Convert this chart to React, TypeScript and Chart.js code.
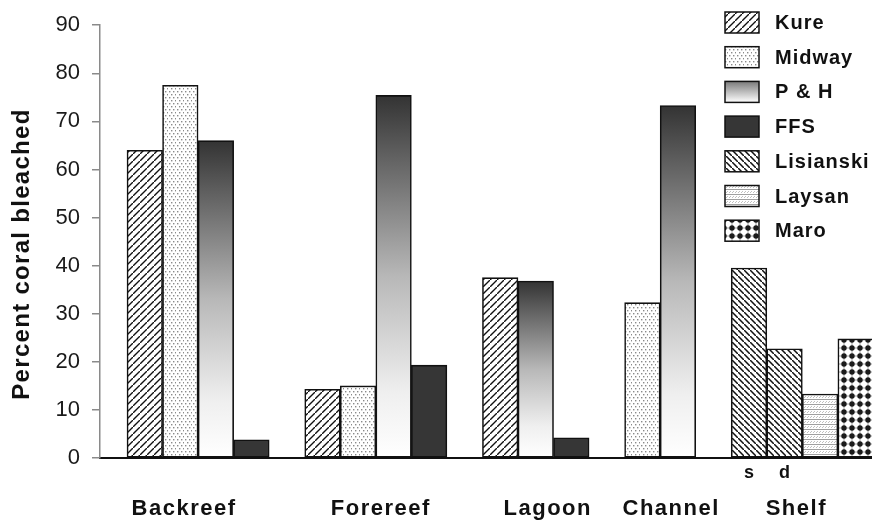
import React, { useEffect, useRef } from "react";
import { Chart, registerables } from "chart.js";

Chart.register(...registerables);

// ---------------- data ----------------
const categories = ["Backreef", "Forereef", "Lagoon", "Channel", "Shelf"];
const siteNames = ["Kure", "Midway", "P & H", "FFS", "Lisianski", "Laysan", "Maro"];

const backreefSites = ["Kure", "Midway", "P & H", "FFS"];
const backreefValues = [64, 77.5, 66, 3.8];
const forereefSites = ["Kure", "Midway", "P & H", "FFS"];
const forereefValues = [14.3, 15, 75.4, 19.3];
const lagoonSites = ["Kure", "P & H", "FFS"];
const lagoonValues = [37.5, 36.8, 4.2];
const channelSites = ["Midway", "P & H"];
const channelValues = [32.3, 73.3];
const shelfSites = ["Lisianski", "Lisianski", "Laysan", "Maro"];
const shelfValues = [39.5, 22.7, 13.3, 24.8];
const shelfSubLabels = ["s", "d", "", ""];

const yTickValues = [0, 10, 20, 30, 40, 50, 60, 70, 80, 90];
const yTitle = "Percent coral bleached";

// ---------------- layout / style constants ----------------
const W = 872;
const H = 523;
const FONT = "'Liberation Sans', Arial, Helvetica, sans-serif";
const groupLabelNudge = [-14, 5, 12, 11, -6];

const groupSites = [backreefSites, forereefSites, lagoonSites, channelSites, shelfSites];
const groupValues = [backreefValues, forereefValues, lagoonValues, channelValues, shelfValues];
const groupSubLabels = [[], [], [], [], shelfSubLabels];

type Bar = { site: string; value: number; slot: number; group: number; sub: string };
const bars: Bar[] = [];
const groupSlots: number[][] = [];
{
  let slot = 0;
  groupSites.forEach((sites, g) => {
    const slots: number[] = [];
    sites.forEach((site, i) => {
      bars.push({ site, value: groupValues[g][i], slot, group: g, sub: (groupSubLabels[g] as string[])[i] || "" });
      slots.push(slot);
      slot++;
    });
    groupSlots.push(slots);
    slot++;
  });
}
const lastSlot = bars[bars.length - 1].slot;

function tile(w: number, h: number, draw: (g: CanvasRenderingContext2D) => void, target: CanvasRenderingContext2D) {
  const c = document.createElement("canvas");
  c.width = w;
  c.height = h;
  const g = c.getContext("2d")!;
  g.fillStyle = "#ffffff";
  g.fillRect(0, 0, w, h);
  draw(g);
  return target.createPattern(c, "repeat")!;
}

function makeFills(ctx: CanvasRenderingContext2D) {
  const kure = tile(7, 7, (g) => {
    g.strokeStyle = "#111";
    g.lineWidth = 1.4;
    g.beginPath();
    g.moveTo(-1, 8); g.lineTo(8, -1);
    g.moveTo(-2, 1); g.lineTo(1, -2);
    g.moveTo(6, 9); g.lineTo(9, 6);
    g.stroke();
  }, ctx);
  const lis = tile(6, 6, (g) => {
    g.strokeStyle = "#111";
    g.lineWidth = 1.5;
    g.beginPath();
    g.moveTo(-1, -1); g.lineTo(7, 7);
    g.moveTo(-2, 5); g.lineTo(1, 8);
    g.moveTo(5, -2); g.lineTo(8, 1);
    g.stroke();
  }, ctx);
  const midway = tile(8, 6, (g) => {
    g.fillStyle = "#8a8a8a";
    g.fillRect(1, 1, 1.4, 1.4);
    g.fillRect(5, 1, 1.4, 1.4);
    g.fillRect(3, 4, 1.4, 1.4);
    g.fillRect(7, 4, 1.4, 1.4);
  }, ctx);
  const laysan = tile(6, 5, (g) => {
    g.strokeStyle = "#a0a0a0";
    g.lineWidth = 1;
    g.beginPath();
    g.moveTo(0, 4.5); g.lineTo(6, 4.5);
    g.stroke();
    g.strokeStyle = "#b0b0b0";
    g.lineWidth = 0.8;
    g.beginPath();
    g.moveTo(0, 3); g.lineTo(2, 1);
    g.moveTo(3, 3); g.lineTo(5, 1);
    g.stroke();
  }, ctx);
  const maro = tile(8, 8, (g) => {
    g.strokeStyle = "#9a9a9a";
    g.lineWidth = 1;
    g.beginPath();
    g.moveTo(0, 4); g.lineTo(8, 4);
    g.moveTo(4, 0); g.lineTo(4, 8);
    g.stroke();
    g.fillStyle = "#1a1a1a";
    g.beginPath();
    g.arc(4, 4, 2.7, 0, Math.PI * 2);
    g.fill();
  }, ctx);
  return { kure, lis, midway, laysan, maro };
}

function barGradient(ctx: CanvasRenderingContext2D, top: number, bottom: number) {
  const g = ctx.createLinearGradient(0, top, 0, bottom);
  g.addColorStop(0, "#333333");
  g.addColorStop(0.15, "#5c5c5c");
  g.addColorStop(0.5, "#b8b8b8");
  g.addColorStop(0.82, "#efefef");
  g.addColorStop(1, "#ffffff");
  return g;
}

export default function App() {
  const ref = useRef<HTMLCanvasElement | null>(null);

  useEffect(() => {
    document.body.style.margin = "0";
    const canvas = ref.current!;
    const ctx = canvas.getContext("2d")!;
    const fills = makeFills(ctx);

    const fillFor = (site: string): any => {
      switch (site) {
        case "Kure": return fills.kure;
        case "Midway": return fills.midway;
        case "FFS": return "#363636";
        case "Lisianski": return fills.lis;
        case "Laysan": return fills.laysan;
        case "Maro": return fills.maro;
        default: return "#999";
      }
    };

    const datasets = siteNames.map((site) => ({
      label: site,
      data: bars.filter((b) => b.site === site).map((b) => ({ x: b.slot, y: b.value })),
      backgroundColor:
        site === "P & H"
          ? (c: any) => {
              const ys = c.chart.scales?.y;
              const v = c.parsed?.y ?? c.raw?.y;
              if (!ys || v == null) return "#999";
              const t = ys.getPixelForValue(v);
              const b = ys.getPixelForValue(0);
              if (!isFinite(t) || !isFinite(b) || t === b) return "#999";
              return barGradient(c.chart.ctx, t, b);
            }
          : fillFor(site),
      borderColor: "#111111",
      borderWidth: 1.6,
      borderSkipped: false as any,
      grouped: false,
      categoryPercentage: 1,
      barPercentage: 1,
    }));

    const overlay = {
      id: "overlay",
      afterDraw(chart: any) {
        const c: CanvasRenderingContext2D = chart.ctx;
        const xs = chart.scales.x;
        c.save();
        c.fillStyle = "#111";
        // y title
        c.save();
        c.translate(22, 254);
        c.rotate(-Math.PI / 2);
        c.font = `bold 24px ${FONT}`;
        (c as any).letterSpacing = "1.3px";
        c.textAlign = "center";
        c.textBaseline = "middle";
        c.fillText(yTitle, 0, 0);
        c.restore();

        // group labels
        c.font = `bold 22px ${FONT}`;
        (c as any).letterSpacing = "1.5px";
        c.textAlign = "center";
        c.textBaseline = "middle";
        categories.forEach((cat, i) => {
          const s = groupSlots[i];
          const cx = xs.getPixelForValue((s[0] + s[s.length - 1]) / 2) + groupLabelNudge[i];
          c.fillText(cat, cx, 509);
        });

        // sub labels
        c.font = `bold 18px ${FONT}`;
        (c as any).letterSpacing = "0px";
        bars.forEach((b) => {
          if (b.sub) c.fillText(b.sub, xs.getPixelForValue(b.slot), 473);
        });

        // legend
        c.font = `bold 20px ${FONT}`;
        (c as any).letterSpacing = "1px";
        c.textAlign = "left";
        siteNames.forEach((site, i) => {
          const cy = 22.5 + i * 34.7;
          const bx = 725, bw = 34, bh = 21, by = cy - bh / 2;
          if (site === "P & H") {
            const g = c.createLinearGradient(0, by, 0, by + bh);
            g.addColorStop(0, "#7a7a7a");
            g.addColorStop(1, "#ffffff");
            c.fillStyle = g;
          } else {
            c.fillStyle = fillFor(site);
          }
          c.fillRect(bx, by, bw, bh);
          c.strokeStyle = "#111";
          c.lineWidth = 1.5;
          c.strokeRect(bx, by, bw, bh);
          c.fillStyle = "#111";
          c.fillText(site, 775, cy + 1);
        });
        c.restore();
      },
    };

    const chart = new Chart(canvas, {
      type: "bar",
      data: { datasets: datasets as any },
      options: {
        animation: false,
        responsive: false,
        devicePixelRatio: 1,
        events: [],
        layout: { padding: { top: 20.7, right: 0, bottom: 0, left: 0 } },
        plugins: { legend: { display: false }, tooltip: { enabled: false } },
        scales: {
          x: {
            type: "linear",
            offset: false,
            min: -1.26,
            max: lastSlot + 0.46,
            afterBuildTicks: (s: any) => {
              s.ticks = bars.map((b) => ({ value: b.slot }));
            },
            afterFit: (s: any) => {
              s.height = H - 458;
            },
            ticks: { display: false },
            grid: { display: false, offset: false },
            border: { display: true, color: "#111", width: 2 },
          },
          y: {
            min: 0,
            max: 90,
            afterBuildTicks: (s: any) => {
              s.ticks = yTickValues.map((v) => ({ value: v }));
            },
            afterFit: (s: any) => {
              s.width = 100;
            },
            ticks: {
              color: "#1a1a1a",
              padding: 12,
              font: { family: FONT, size: 22 },
            },
            grid: {
              drawOnChartArea: false,
              drawTicks: true,
              tickLength: 8,
              color: "#8a8a8a",
              lineWidth: 1.5,
            },
            border: { display: true, color: "#8a8a8a", width: 1.5 },
          },
        },
      },
      plugins: [overlay],
    } as any);

    return () => chart.destroy();
  }, []);

  return <canvas ref={ref} width={W} height={H} style={{ display: "block", width: W, height: H }} />;
}
